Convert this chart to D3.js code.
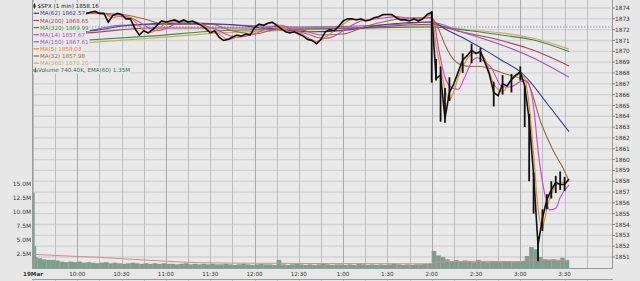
<!DOCTYPE html>
<html><head><meta charset="utf-8">
<script src="https://cdn.jsdelivr.net/npm/d3@7"></script>
<style>html,body{margin:0;padding:0;background:#e7e7e7;}svg{display:block;}</style>
</head><body>
<svg id="c" width="640" height="281"></svg>
<script>
// ---------- DATA ----------
// close prices, every 3 minutes from 9:30 (minute 0) to minute 363
const priceStep = 3;
const closes = [
1873.3,1873.4,1873.5,1873.6,1873.6,1873.5,1873.4,1873.5,1873.5,1873.5,
1873.6,1873.6,1873.5,1873.6,1873.7,1873.5,1873.5,1872.7,1873.3,1873.5,
1873.4,1873.0,1873.0,1872.1,1871.5,1871.9,1871.7,1872.0,1872.4,1872.8,
1872.7,1872.8,1872.9,1872.7,1872.9,1872.7,1872.8,1872.6,1872.4,1872.1,
1871.7,1871.9,1871.3,1871.0,1871.1,1871.3,1871.5,1871.4,1871.6,1871.5,
1872.2,1872.5,1872.4,1872.6,1872.7,1872.4,1872.1,1871.8,1871.7,1871.8,
1871.6,1871.4,1871.1,1871.0,1870.7,1871.1,1871.8,1872.0,1871.9,1872.3,
1872.8,1873.0,1873.0,1872.9,1873.0,1872.8,1872.9,1873.1,1873.2,1873.4,
1873.4,1873.4,1873.1,1872.9,1872.9,1872.8,1873.0,1872.8,1873.0,1873.4,
1873.6,1867.5,1867.8,1863.8,1866.2,1867.0,1868.1,1869.2,1869.6,1870.1,
1869.8,1870.0,1869.0,1867.9,1866.2,1865.9,1867.0,1866.8,1867.4,1867.8,
1868.1,1866.8,1863.7,1858.6,1852.1,1854.6,1856.3,1857.2,1857.9,1857.7,
1857.7,1858.2];

// wide-range price bars: [minute, low, high]
const barRanges = [
[270,1867.1,1873.7],[273,1867.3,1869.3],[276,1863.5,1868.6],[279,1863.4,1866.6],[282,1865.4,1867.6],
[291,1868.0,1869.8],[297,1868.9,1870.7],[303,1869.0,1870.3],[312,1864.9,1867.2],[318,1866.0,1867.8],
[324,1866.2,1867.9],[330,1867.3,1868.6],[333,1863.0,1866.8],[336,1858.0,1864.2],[339,1855.0,1858.8],
[342,1850.6,1852.9],[345,1853.4,1855.4],[348,1855.4,1856.8],[351,1856.4,1858.0],[354,1856.9,1858.5],
[357,1857.2,1858.9],[360,1857.1,1858.4]];

// moving averages: [minute, value]
const ma5 = [[0,1873.3],[6,1873.4],[12,1873.55],[18,1873.5],[24,1873.5],[30,1873.55],[36,1873.55],[42,1873.6],[48,1873.5],[54,1873.1],[60,1873.3],[66,1873.1],[72,1872.3],[78,1871.7],[84,1872.0],[90,1872.6],[96,1872.75],[102,1872.8],[108,1872.75],[114,1872.5],[120,1871.9],[126,1871.6],[132,1871.1],[138,1871.3],[144,1871.5],[150,1871.8],[156,1872.4],[162,1872.6],[168,1872.3],[174,1871.8],[180,1871.7],[186,1871.3],[192,1870.9],[198,1871.3],[204,1871.9],[210,1872.5],[216,1872.95],[222,1872.95],[228,1872.9],[234,1873.2],[240,1873.4],[246,1873.2],[252,1872.9],[258,1872.9],[264,1873.0],[270,1873.4],[273,1870.5],[276,1868.5],[279,1866.5],[282,1865.5],[285,1866.3],[288,1867.6],[294,1869.3],[300,1869.9],[306,1869.3],[312,1867.0],[318,1866.3],[324,1867.3],[330,1867.9],[333,1867.5],[336,1865.0],[339,1860.5],[342,1855.5],[345,1853.8],[348,1855.5],[351,1856.8],[354,1857.6],[357,1857.8],[363,1858.03]];
const ma14 = [[0,1873.2],[10,1873.4],[20,1873.5],[30,1873.5],[40,1873.55],[50,1873.4],[60,1873.2],[66,1873.1],[72,1872.7],[78,1872.2],[84,1871.9],[90,1872.1],[96,1872.5],[102,1872.75],[110,1872.7],[118,1872.3],[126,1871.9],[132,1871.5],[138,1871.3],[144,1871.4],[150,1871.6],[156,1872.0],[162,1872.3],[168,1872.4],[174,1872.1],[180,1871.8],[186,1871.6],[192,1871.3],[198,1871.2],[204,1871.4],[210,1871.9],[216,1872.4],[222,1872.8],[230,1872.95],[238,1873.1],[246,1873.2],[254,1873.05],[262,1873.0],[268,1873.1],[271,1872.9],[275,1870.0],[279,1867.6],[284,1866.6],[288,1866.5],[292,1867.5],[298,1869.2],[301,1869.4],[305,1869.1],[310,1868.55],[318,1866.7],[323,1866.7],[330,1867.2],[334,1867.3],[339,1864.9],[342,1860.9],[346,1857.2],[350,1855.35],[354,1855.5],[357,1856.5],[363,1857.67]];
const ma32 = [[0,1873.0],[20,1873.3],[40,1873.5],[60,1873.4],[75,1873.0],[90,1872.5],[105,1872.5],[120,1872.5],[135,1871.9],[150,1871.6],[165,1872.0],[180,1872.0],[195,1871.5],[210,1871.6],[225,1872.3],[240,1872.8],[255,1873.1],[270,1873.1],[274,1872.25],[279,1870.6],[285,1869.2],[291,1868.7],[296,1868.6],[303,1868.6],[312,1868.3],[320,1867.9],[330,1867.5],[335,1867.1],[344,1863.4],[352,1860.9],[359,1859.2],[363,1857.98]];
const ma62 = [[0,1871.6],[40,1871.9],[65,1872.4],[100,1872.6],[130,1872.5],[160,1872.1],[190,1871.8],[215,1872.0],[240,1872.5],[270,1872.7],[280,1872.0],[294,1871.05],[305,1870.2],[317,1869.2],[330,1868.1],[334,1867.6],[348,1865.2],[363,1862.57]];
const ma150 = [[0,1871.6],[37,1871.9],[59,1872.4],[113,1872.5],[181,1872.25],[249,1872.5],[269,1872.7],[290,1871.8],[317,1870.6],[337,1869.5],[363,1867.61]];
const ma200 = [[0,1871.5],[37,1871.7],[79,1872.15],[147,1872.15],[215,1872.15],[269,1872.5],[290,1871.8],[317,1871.0],[339,1870.1],[363,1868.65]];
const ma320 = [[0,1870.8],[37,1871.05],[79,1871.4],[127,1871.9],[181,1872.05],[222,1872.15],[269,1872.25],[296,1871.9],[317,1871.5],[339,1871.05],[363,1869.99]];
const ma360 = [[0,1870.5],[37,1870.8],[79,1871.2],[127,1871.7],[181,1871.97],[222,1872.15],[269,1872.35],[296,1871.97],[317,1871.7],[339,1871.2],[363,1870.2]];

// volume (millions): first three one-minute bars, then 3-minute bars from minute 3
const openVolMinutes = [0,1,2];
const openVol = [13.5,4.0,2.0];
const volStep = 3;
const vol = [
1.8,1.6,1.5,1.5,1.4,1.2,1.1,1.2,1.1,1.2,1.0,1.1,1.0,0.9,1.0,1.1,0.9,1.0,0.9,0.8,
0.9,1.0,0.9,0.8,0.9,0.8,0.9,0.8,0.9,0.8,0.8,0.7,0.8,0.9,0.7,0.8,0.7,0.8,0.7,0.8,
0.7,0.7,0.8,0.7,0.6,0.7,0.8,0.7,0.6,0.7,0.8,0.7,0.7,0.6,1.5,0.7,0.6,0.7,0.8,0.7,
0.6,0.7,0.6,0.7,0.8,0.7,0.6,0.7,0.7,0.6,0.7,0.6,0.8,0.7,0.6,0.7,0.6,0.7,0.6,0.7,
0.8,0.7,0.6,0.7,0.6,0.7,0.7,0.8,0.8,3.1,2.3,2.0,1.6,1.3,1.5,1.2,1.4,1.3,1.1,1.5,
1.2,1.1,1.3,1.2,1.1,1.3,1.2,1.1,1.2,1.3,2.2,3.8,3.4,2.0,1.6,1.5,1.6,1.4,1.9,1.5];
const volEma = [[0,2.5],[23,2.2],[45,1.95],[68,1.6],[91,1.25],[113,1.0],[150,0.9],[200,0.85],[268,0.8],[272,1.0],[280,1.2],[300,1.25],[330,1.2],[336,1.5],[345,1.5],[363,1.35]];
const prevClose = 1872.25;

const timeTickMinutes = [0,30,60,90,120,150,180,210,240,270,300,330,360];
const timeTickLabels = ["19Mar","10:00","10:30","11:00","11:30","12:00","12:30","1:00","1:30","2:00","2:30","3:00","3:30"];
const gridMinutes = [0,15,30,45,60,75,90,105,120,135,150,165,180,195,210,225,240,255,270,285,300,315,330,345,360,375];
const priceTicks = [1851,1852,1853,1854,1855,1856,1857,1858,1859,1860,1861,1862,1863,1864,1865,1866,1867,1868,1869,1870,1871,1872,1873,1874];
const volTicks = [2.5,5.0,7.5,10.0,12.5,15.0];
const volTickLabels = ["2.5M","5.0M","7.5M","10.0M","12.5M","15.0M"];

const legendTitle = "$SPX (1 min) 1858.16";
const maNames = ["MA(62) 1862.57","MA(200) 1868.65","MA(320) 1869.99","MA(14) 1857.67","MA(150) 1867.61","MA(5) 1858.03","MA(32) 1857.98","MA(360) 1870.20"];
const volLegend = "Volume 740.40K, EMA(60) 1.35M";

// ---------- DRAW ----------
const svg = d3.select("#c");
const L = 32, R = 612, T = 0, B = 268;
const x = d3.scaleLinear().domain([0,390]).range([33, 608.9]);
const y = d3.scaleLinear().domain([1851,1874]).range([257, 8]);
const yv = d3.scaleLinear().domain([0,15]).range([268.3, 184.3]);

svg.append("rect").attr("x",0).attr("y",0).attr("width",640).attr("height",281).attr("fill","#e7e7e7");
svg.append("rect").attr("x",L).attr("y",T).attr("width",R-L).attr("height",B-T).attr("fill","#e9e9e9");

// horizontal grid
svg.append("g").selectAll("line").data(priceTicks).join("line")
  .attr("x1",L).attr("x2",R).attr("y1",d=>y(d)).attr("y2",d=>y(d))
  .attr("stroke","#d2d2d2").attr("stroke-width",1.3);
// vertical grid
svg.append("g").selectAll("line").data(gridMinutes).join("line")
  .attr("x1",d=>Math.round(x(d))+0.5).attr("x2",d=>Math.round(x(d))+0.5).attr("y1",T).attr("y2",B)
  .attr("stroke",d=>d%60===30?"#a9a9a9":"#bdbdbd").attr("stroke-width",1);

// previous close dotted line
svg.append("line").attr("x1",L).attr("x2",R).attr("y1",y(prevClose)).attr("y2",y(prevClose))
  .attr("stroke","#8a9ab8").attr("stroke-width",1).attr("stroke-dasharray","1.5,1.5");

// volume bars
const volBars = openVolMinutes.map((m,i)=>({t0:m,t1:m+1,v:openVol[i]}))
  .concat(vol.map((v,i)=>({t0:3+i*volStep,t1:3+(i+1)*volStep,v:v})));
svg.append("g").selectAll("rect").data(volBars).join("rect")
  .attr("x",d=>x(d.t0)).attr("width",d=>x(d.t1)-x(d.t0)+0.2)
  .attr("y",d=>yv(d.v)).attr("height",d=>yv(0)-yv(d.v))
  .attr("fill","#7f9e90");
svg.append("path").datum(volEma)
  .attr("d",d3.line().x(d=>x(d[0])).y(d=>yv(d[1])).curve(d3.curveMonotoneX))
  .attr("fill","none").attr("stroke","#d88a8a").attr("stroke-width",1);

// moving averages
const maLine = d3.line().x(d=>x(d[0])).y(d=>y(d[1])).curve(d3.curveMonotoneX);
const maSeries = [
  {d:ma360,c:"#c9ac66"},{d:ma320,c:"#3f8a3f"},{d:ma200,c:"#b0405a"},{d:ma150,c:"#9a58b8"},
  {d:ma62,c:"#3c3c8e"},{d:ma32,c:"#9a6a3a"},{d:ma14,c:"#c545c8"},{d:ma5,c:"#e8842c"}];
maSeries.forEach(s=>{
  svg.append("path").datum(s.d).attr("d",maLine).attr("fill","none")
    .attr("stroke",s.c).attr("stroke-width",1.1);
});

// price
svg.append("g").selectAll("line").data(barRanges).join("line")
  .attr("x1",d=>x(d[0])).attr("x2",d=>x(d[0])).attr("y1",d=>y(d[1])).attr("y2",d=>y(d[2]))
  .attr("stroke","#111").attr("stroke-width",1.8);
svg.append("path").datum(closes)
  .attr("d",d3.line().x((d,i)=>x(i*priceStep)).y(d=>y(d)))
  .attr("fill","none").attr("stroke","#111").attr("stroke-width",1.6).attr("stroke-linejoin","miter");

// frame
svg.append("line").attr("x1",L+0.5).attr("x2",L+0.5).attr("y1",T).attr("y2",B).attr("stroke","#9a9a9a");
svg.append("line").attr("x1",R+0.5).attr("x2",R+0.5).attr("y1",T).attr("y2",B).attr("stroke","#9a9a9a");
svg.append("line").attr("x1",L).attr("x2",R+1).attr("y1",B+0.5).attr("y2",B+0.5).attr("stroke","#9a9a9a");

// right price axis
const ra = svg.append("g");
ra.selectAll("line").data(priceTicks).join("line")
  .attr("x1",R).attr("x2",R+3).attr("y1",d=>y(d)).attr("y2",d=>y(d)).attr("stroke","#888");
ra.selectAll("text").data(priceTicks).join("text")
  .attr("x",R+3).attr("y",d=>y(d)+2.1).text(d=>d)
  .attr("font-family","DejaVu Sans").attr("font-size",5.8).attr("fill","#333");

// left volume axis
svg.append("g").selectAll("text").data(volTicks).join("text")
  .attr("x",31).attr("y",d=>yv(d)+2.1).attr("text-anchor","end").text((d,i)=>volTickLabels[i])
  .attr("font-family","DejaVu Sans").attr("font-size",5.9).attr("fill","#333");

// time labels
svg.append("g").selectAll("text").data(timeTickMinutes).join("text")
  .attr("x",d=>x(d)).attr("y",275.5).attr("text-anchor","middle").text((d,i)=>timeTickLabels[i])
  .attr("font-family","DejaVu Sans").attr("font-size",5.6).attr("fill","#333")
  .attr("font-weight",(d,i)=>i===0?"bold":"normal");

// lower panel stub
svg.append("line").attr("x1",L).attr("x2",R+1).attr("y1",279.5).attr("y2",279.5).attr("stroke","#9a9a9a");
svg.append("g").selectAll("line").data(gridMinutes).join("line")
  .attr("x1",d=>Math.round(x(d))+0.5).attr("x2",d=>Math.round(x(d))+0.5).attr("y1",280).attr("y2",281)
  .attr("stroke","#bdbdbd");

// legend
const lg = svg.append("g").attr("font-family","DejaVu Sans").attr("font-size",5.6);
function legendLine(txt, cy, tx, color, weight){
  const bg = lg.append("rect");
  const t = lg.append("text").attr("x",tx).attr("y",cy+2).text(txt).attr("fill",color)
    .attr("font-weight",weight||"normal");
  const w = t.node().getComputedTextLength();
  bg.attr("x",L+1).attr("y",cy-3.6).attr("width",tx+w+1-(L+1)).attr("height",7.2).attr("fill","#e9e9e9");
}
const rowY = [6,13.3,20.5,27.6,34.7,41.8,48.9,56,63.1,70.2];
legendLine(legendTitle,rowY[0],37.5,"#111","normal");
// candle icon
lg.append("line").attr("x1",34.5).attr("x2",34.5).attr("y1",3.5).attr("y2",8.5).attr("stroke","#222");
lg.append("rect").attr("x",33.5).attr("y",4.5).attr("width",2).attr("height",3).attr("fill","#222");
const maColors = ["#3c3c8e","#b0405a","#3f8a3f","#c545c8","#9a58b8","#e8842c","#9a6a3a","#c9ac66"];
maNames.forEach((n,i)=>{
  legendLine(n,rowY[i+1],40,maColors[i],"normal");
  lg.append("line").attr("x1",33.5).attr("x2",39).attr("y1",rowY[i+1]).attr("y2",rowY[i+1])
    .attr("stroke",maColors[i]).attr("stroke-width",1.2);
});
legendLine(volLegend,rowY[9],38,"#3e6b5a","normal");
lg.append("rect").attr("x",33.5).attr("y",rowY[9]-1).attr("width",1).attr("height",3).attr("fill","#3e6b5a");
lg.append("rect").attr("x",35).attr("y",rowY[9]-2.5).attr("width",1).attr("height",4.5).attr("fill","#3e6b5a");
lg.append("rect").attr("x",36.5).attr("y",rowY[9]-0.5).attr("width",1).attr("height",2.5).attr("fill","#3e6b5a");
</script>
</body></html>
